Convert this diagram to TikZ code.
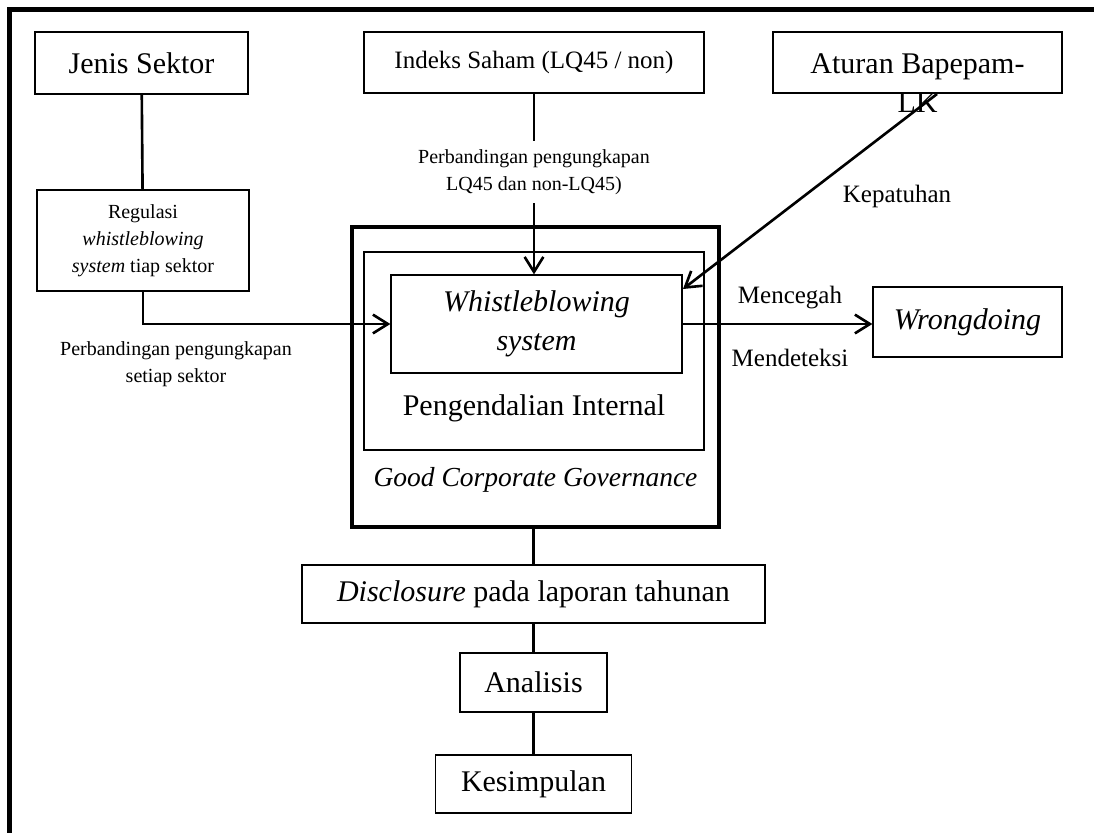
\documentclass[tikz,border=0pt]{standalone}
\usepackage{fontspec}
\setmainfont{Liberation Serif}
\usetikzlibrary{arrows.meta,calc}
\newcommand{\bigtxt}{\fontsize{12}{15.5}\selectfont}
\newcommand{\midtxt}{\fontsize{10}{12}\selectfont}
\newcommand{\smalltxt}{\fontsize{8}{10.7}\selectfont}

\begin{document}
\begin{tikzpicture}[x=0.4pt,y=-0.4pt,
    >={Straight Barb[length=6pt,width=7.5pt]},
    box/.style={draw,line width=0.5pt,inner sep=0pt,align=center},
    link/.style={line width=1.05pt},
    thin link/.style={line width=0.85pt}]
      \useasboundingbox (0,0) rectangle (1094,833);
      \draw[line width=1.8pt] (9.5,833) -- (9.5,9.5) -- (1094,9.5);
      % top row
      \node[box,minimum width=85.2pt,minimum height=24.8pt,font=\bigtxt] (jenis) at (141.5,63) {Jenis Sektor};
      \node[box,minimum width=136pt,minimum height=24.4pt,font=\midtxt] (indeks) at (534,62.5) {Indeks Saham (LQ45 / non)};
      \node[box,minimum width=115.6pt,minimum height=24.4pt] (aturan) at (917.5,62.5) {};
      \node[font=\bigtxt,align=center] (aturantxt) at (917.5,83) {Aturan Bapepam-\\LK};
      \node[box,minimum width=84.8pt,minimum height=40.4pt,font=\smalltxt] (regulasi) at (143,240.5) {Regulasi\\\textit{whistleblowing}\\\textit{system} tiap sektor};
      % nested boxes
      \node[draw,line width=1.4pt,minimum width=146.8pt,minimum height=120pt] (gcg) at (535.5,377) {};
      \node[box,minimum width=136pt,minimum height=79.2pt] (pengendalian) at (534,351) {};
      \node[box,minimum width=116.4pt,minimum height=39.2pt,font=\bigtxt\itshape] (wbs) at (536.5,324) {Whistleblowing\\system};
      \node[font=\bigtxt] (pitxt) at (534,408) {Pengendalian Internal};
      \node[font=\fontsize{11}{13}\selectfont\itshape] (gcgtxt) at (535.5,480) {Good Corporate Governance};
      \node[box,minimum width=75.6pt,minimum height=28pt,font=\bigtxt\itshape] (wrong) at (967.5,322) {Wrongdoing};
      % bottom column
      \node[box,minimum width=185.2pt,minimum height=23.2pt,font=\bigtxt] (disc) at (533.5,594) {\textit{Disclosure} pada laporan tahunan};
      \node[box,minimum width=58.8pt,minimum height=23.6pt,font=\bigtxt] (analisis) at (533.5,682.5) {Analisis};
      \node[box,minimum width=78.4pt,minimum height=23.2pt,font=\bigtxt] (kesimpulan) at (533.5,784) {Kesimpulan};
      % labels
      \node[font=\smalltxt,align=center] (lqlbl) at (534,172) {Perbandingan pengungkapan\\LQ45 dan non-LQ45)};
      \node[font=\smalltxt,align=center] (sektorlbl) at (176,364) {Perbandingan pengungkapan\\setiap sektor};
      \node[font=\midtxt] (kepatuhan) at (897,196) {Kepatuhan};
      \node[font=\midtxt] (mencegah) at (790,298) {Mencegah};
      \node[font=\midtxt] (mendeteksi) at (790,358) {Mendeteksi};
      % connectors
      \coordinate (bapepam) at (937,94);
      \coordinate (wbsin) at (683,289);
      \draw[link] (jenis) -- (regulasi);
      \draw[link,->] (regulasi.south) |- (wbs.west);
      \draw[link] (indeks.south) -- (lqlbl.north);
      \draw[link,->] (lqlbl.south) -- (lqlbl.south |- wbs.north);
      \draw[link,->] (bapepam) -- (wbsin);
      \draw[link,->] (wbs.east) -- (wbs.east -| wrong.west);
      \draw[thin link] (disc.north |- gcg.south) -- (disc.north);
      \draw[thin link] (disc.south) -- (analisis.north);
      \draw[thin link] (analisis.south) -- (kesimpulan.north);
    \end{tikzpicture}
\end{document}
